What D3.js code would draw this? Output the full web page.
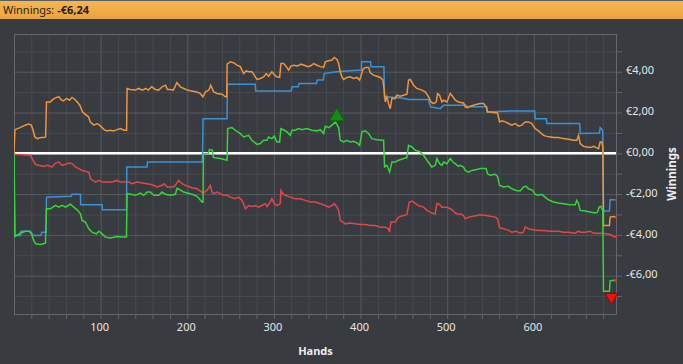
<!DOCTYPE html>
<html><head><meta charset="utf-8">
<script src="https://cdn.jsdelivr.net/npm/d3@7"></script>
<style>
html,body{margin:0;padding:0;background:#383b3f;overflow:hidden}
svg{display:block}
</style></head><body>
<svg id="c" width="683" height="364"></svg>
<script>
// ---------- data ----------
const titleLabel = "Winnings: ";
const titleValue = "-€6,24";
const xAxisTitle = "Hands";
const yAxisTitle = "Winnings";
const xTickValues = [100, 200, 300, 400, 500, 600];
const xTickLabels = ["100", "200", "300", "400", "500", "600"];
const yTickValues = [-6, -4, -2, 0, 2, 4];
const yTickLabels = ["-€6,00", "-€4,00", "-€2,00", "€0,00", "€2,00", "€4,00"];
const handsDomain = [0, 696];
const winDomain = [-7.88, 5.85];

// all-in EV (orange)
const orangeSeries = [[0,0],[1,1.16],[7,1.26],[13,1.38],[17,1.43],[20,1.38],[22,1.13],[24,0.80],[27,0.72],[31,0.77],[34,0.77],[36.5,0.80],[37.5,2.52],[42,2.52],[45,2.64],[49,2.74],[52,2.77],[54,2.64],[57,2.57],[61,2.69],[64,2.60],[67,2.74],[70,2.65],[73,2.52],[76,2.36],[79,2.03],[82,1.92],[86,1.79],[88,1.54],[92,1.38],[96,1.46],[100,1.33],[104,1.16],[107,1.10],[111,1.13],[115,1.10],[119,1.16],[123,1.21],[127,1.13],[130,1.13],[130.5,3.18],[134,3.13],[140,3.10],[144,3.18],[148,3.10],[152,3.18],[155,3.10],[159,3.26],[163,3.13],[167,3.10],[171,3.26],[175,3.34],[177,3.13],[180,3.13],[184,3.10],[188,3.46],[192,3.26],[196,3.18],[200,3.10],[205,3.06],[211,3.01],[215,2.93],[218,2.77],[221,3.01],[225,3.10],[227,3.34],[230.5,3.01],[234.4,2.93],[240,2.90],[244,2.77],[245.5,2.77],[246,4.37],[249.7,4.49],[253.5,4.44],[257.4,4.32],[261.2,4.25],[265,3.91],[268,4.04],[271,4.0],[274.6,4.0],[277.3,3.83],[280.4,3.62],[284.3,3.67],[288.1,3.75],[291.2,3.91],[293.9,3.78],[297.7,4.0],[300.8,3.83],[303.5,3.75],[306.6,3.72],[308.1,4.4],[311.2,4.4],[314.3,4.25],[317,4.08],[319.7,4.28],[322.8,4.32],[327.4,4.28],[331.3,4.37],[335.1,4.32],[339,4.25],[342,4.28],[345.9,4.4],[349.7,4.32],[353.6,4.25],[357.4,4.21],[359.3,4.49],[363.2,4.54],[367,4.57],[369.7,4.70],[372.8,4.60],[374.7,4.40],[376.6,4.0],[378.5,3.75],[380.5,3.62],[384.3,3.72],[388.1,3.75],[392,3.67],[395.8,3.72],[398.9,3.59],[400.4,3.78],[402.7,4.11],[405.4,4.21],[409.3,4.21],[411.2,3.95],[415,3.83],[418.9,3.78],[422.7,3.72],[425.8,3.59],[427.3,3.10],[428.5,2.52],[430.4,2.77],[432.3,2.44],[434.3,2.19],[436.2,2.69],[440,2.69],[442,2.85],[445.8,2.80],[449.7,2.85],[453.5,2.90],[455.4,3.59],[457.4,3.62],[461.2,3.34],[465,3.18],[470.8,3.10],[474.6,3.01],[478.5,2.77],[481.2,2.52],[484.3,2.44],[487.4,2.52],[488.9,2.93],[491.2,2.85],[493.9,2.52],[495.8,2.60],[499.7,2.52],[503.5,2.93],[506.6,2.77],[509.3,2.60],[513.1,2.52],[518.9,2.47],[520.8,2.28],[523.5,2.24],[526.6,2.31],[530.5,2.36],[534.3,2.41],[538.1,2.44],[542,2.44],[545.1,2.28],[546.6,2.03],[549.6,2.03],[553.5,2.0],[558.1,1.98],[560.4,1.54],[563.1,1.59],[567,1.54],[570.8,1.46],[574.6,1.38],[578.5,1.46],[582.3,1.33],[586.2,1.38],[590,1.54],[593.9,1.54],[597.7,1.46],[601.6,1.21],[605.4,1.10],[611.2,0.88],[615,0.83],[618.9,0.80],[622.7,0.77],[628.5,0.77],[634.3,0.72],[640.1,0.69],[645.8,0.64],[649.7,0.64],[651.6,0.88],[653.5,0.48],[657.4,0.34],[661.2,0.31],[665.1,0.28],[668.9,0.34],[672,0.28],[674.7,0.23],[676.6,0.56],[678.5,0.56],[679.7,0.3],[680.4,-3.54],[687.3,-3.54],[688.1,-3.13],[691.9,-3.10],[696,-3.16]];

// showdown winnings (blue)
const blueSeries = [[0,0],[1,-4.03],[7.5,-4.03],[8,-3.82],[19,-3.82],[20,-3.9],[23,-4.03],[30.6,-4.03],[32.5,-3.87],[37,-3.87],[37.5,-2.15],[66,-2.11],[67,-2.01],[76.7,-2.01],[77,-2.52],[101.7,-2.52],[102,-2.77],[129.8,-2.77],[130.2,-0.67],[153.6,-0.67],[154,-0.43],[217.5,-0.43],[218.2,1.70],[245.9,1.70],[246.2,3.39],[278.5,3.39],[279,3.05],[320,3.05],[321,3.26],[328,3.26],[329,3.42],[349,3.42],[350,3.59],[357,3.59],[358,3.91],[370,3.99],[388,4.05],[401,4.08],[401.3,4.49],[411.5,4.49],[412,4.24],[427,4.24],[427.5,2.77],[445,2.72],[456,2.64],[478.5,2.64],[479,2.52],[481,2.28],[491.9,2.19],[495.8,2.36],[522,2.36],[522.7,2.28],[545.8,2.28],[546,2.03],[576.6,2.08],[601,2.08],[601.6,1.70],[614.5,1.70],[615,1.46],[653,1.46],[653.5,0.97],[675.8,1.0],[676.6,1.26],[679.5,1.13],[680.4,-2.83],[687.3,-2.83],[688.1,-2.28],[696,-2.28]];

// non-showdown winnings (red)
const redSeries = [[0,0],[1.3,-0.05],[19,-0.10],[20.9,-0.26],[24.8,-0.54],[28.6,-0.59],[34.4,-0.64],[38.2,-0.59],[44,-0.67],[47.9,-0.48],[51.7,-0.43],[55.5,-0.59],[59.4,-0.54],[63.2,-0.48],[67.1,-0.51],[70.9,-0.67],[74.8,-0.75],[78.6,-0.84],[86.3,-0.92],[88.2,-1.24],[94,-1.41],[97.9,-1.33],[101.7,-1.41],[107.5,-1.41],[113.2,-1.41],[119,-1.33],[122.8,-1.41],[128.6,-1.41],[132.5,-1.41],[136.3,-1.49],[142.1,-1.41],[147.8,-1.46],[153.6,-1.49],[159.4,-1.54],[165.2,-1.65],[170.9,-1.57],[173.6,-1.49],[176.7,-1.65],[184.4,-1.65],[187.4,-1.49],[190.1,-1.33],[194,-1.49],[197.8,-1.57],[205.5,-1.69],[211.3,-1.74],[215.1,-1.85],[218.2,-1.95],[222.8,-1.82],[226.6,-1.57],[228.5,-1.90],[230.5,-1.98],[234.3,-1.90],[238.2,-1.98],[242,-2.06],[245.9,-2.06],[249.7,-2.15],[255.5,-2.23],[259.3,-2.15],[263.2,-2.31],[265,-2.47],[267,-2.72],[270.8,-2.56],[274.6,-2.61],[278.5,-2.56],[282.3,-2.64],[286.2,-2.56],[290,-2.47],[292,-2.61],[295.8,-2.39],[297.7,-2.23],[300.4,-2.47],[303.5,-2.56],[307.3,-2.47],[308.1,-1.82],[310.4,-1.98],[313.1,-2.06],[318.9,-2.15],[324.7,-2.23],[330.4,-2.23],[336.2,-2.31],[342,-2.39],[347.8,-2.39],[353.6,-2.47],[359.3,-2.56],[363.2,-2.64],[367,-2.56],[369.7,-2.47],[372.8,-2.64],[374.7,-2.8],[376.6,-3.29],[379.7,-3.37],[382.4,-3.46],[388.1,-3.42],[393.9,-3.46],[399.7,-3.49],[405.4,-3.49],[411.2,-3.54],[417,-3.54],[422.7,-3.62],[428.5,-3.62],[432.3,-3.70],[433.5,-3.87],[435,-3.37],[440,-3.37],[443.9,-3.13],[449.7,-3.05],[453.5,-3.0],[456.2,-2.40],[459.3,-2.34],[461.2,-2.39],[466.9,-2.56],[472.7,-2.64],[476.6,-2.80],[482.3,-2.93],[486.2,-2.97],[488.1,-2.46],[491.2,-2.51],[493.9,-2.64],[499.6,-2.64],[503.5,-2.72],[506.6,-2.80],[509.2,-2.93],[513.1,-3.0],[515,-2.97],[518.8,-3.05],[520.8,-3.21],[524.6,-3.13],[528.4,-3.10],[534.2,-3.05],[538.1,-3.01],[545,-3.05],[555.4,-3.13],[558.1,-3.21],[560.4,-3.65],[565,-3.70],[570.8,-3.78],[574.6,-3.87],[579.6,-3.82],[584.2,-3.92],[588,-3.87],[589.9,-3.62],[593.8,-3.70],[598.8,-3.75],[605.4,-3.78],[611.2,-3.78],[619,-3.82],[628.4,-3.82],[634.2,-3.87],[640,-3.87],[647.7,-3.92],[651.6,-3.82],[653.5,-3.87],[659.2,-3.87],[665,-3.82],[669,-3.92],[675.4,-3.92],[679.6,-3.92],[683.5,-3.95],[688.1,-3.98],[691.9,-4.08],[696,-4.11]];

// net won (green)
const greenSeries = [[0,0],[1,-4.08],[7.5,-3.92],[13.3,-3.82],[17.1,-3.82],[19.8,-3.92],[22.9,-4.28],[24.8,-4.44],[30.6,-4.47],[36.3,-4.41],[37.5,-2.72],[42.1,-2.72],[47.9,-2.55],[51.7,-2.64],[55.5,-2.55],[59.4,-2.64],[65.2,-2.50],[69,-2.64],[72.9,-2.77],[76.7,-2.97],[78.6,-3.29],[82.5,-3.37],[86.3,-3.70],[90.2,-3.87],[95.2,-3.95],[97.9,-3.82],[101.7,-3.95],[105.5,-4.11],[111.3,-4.15],[119,-4.08],[124.8,-4.11],[129.8,-4.11],[130.5,-1.98],[134.4,-2.01],[140.1,-2.06],[145.9,-1.95],[149.8,-2.06],[153.6,-1.90],[157.5,-1.90],[161.3,-2.06],[167.1,-2.06],[170.9,-1.90],[174.7,-2.01],[180.5,-2.06],[186.3,-2.01],[188.2,-1.72],[192,-1.80],[195.9,-1.90],[205.5,-2.01],[211.3,-2.11],[217,-2.39],[218.2,-2.39],[218.6,-0.02],[224.5,0.0],[225.5,0.18],[229,0.15],[230,-0.2],[238,-0.26],[245.9,-0.34],[246.6,1.21],[251.6,1.26],[255.5,1.13],[261.2,0.97],[265,0.80],[270.8,0.88],[274.6,0.64],[280.4,0.44],[284.3,0.48],[288.1,0.64],[292,0.64],[293.9,0.80],[297.7,0.72],[300.4,0.84],[303.5,0.56],[306.6,0.56],[308.1,1.21],[312,1.13],[315.1,1.05],[318.9,0.88],[320.9,1.13],[324.7,1.13],[328.5,1.21],[332.4,1.16],[338.1,1.21],[343.9,1.13],[349.7,1.10],[353.6,1.16],[357.4,0.97],[359.3,1.33],[363.2,1.26],[367,1.38],[370.9,1.54],[374.7,1.26],[376.6,0.64],[380.5,0.56],[384.3,0.64],[388.1,0.56],[392,0.59],[395.8,0.51],[398.9,0.39],[401.6,1.05],[405.4,1.10],[409.3,0.97],[413.1,0.72],[418.9,0.67],[424.6,0.64],[426.6,0.64],[427.7,-0.67],[430.4,-0.59],[433.5,-0.92],[436.2,-0.43],[440,-0.43],[443.9,-0.34],[449.7,-0.26],[453.5,-0.21],[455.4,0.39],[459.3,0.31],[463.1,0.15],[468.9,0.07],[472.7,-0.1],[476.6,-0.34],[482.3,-0.67],[486.2,-0.59],[488.1,-0.26],[491.2,-0.51],[493.9,-0.59],[495.8,-0.43],[499.6,-0.51],[503.5,-0.26],[506.6,-0.43],[509.2,-0.51],[513.1,-0.64],[515,-0.59],[518.8,-0.67],[520.8,-0.84],[524.6,-0.92],[528.4,-0.84],[534.2,-0.80],[538.1,-0.75],[545,-0.75],[546.5,-1.0],[549.6,-1.08],[555.4,-1.03],[558.1,-1.13],[560.4,-1.57],[565,-1.65],[570.8,-1.62],[574.6,-1.74],[579.6,-1.82],[584.2,-1.85],[588.1,-1.65],[591.2,-1.62],[593.8,-1.74],[598.8,-1.82],[601.5,-2.01],[605.4,-2.06],[609.2,-2.01],[613,-2.15],[616.9,-2.28],[622.7,-2.39],[628.4,-2.44],[634.2,-2.47],[640,-2.51],[647.7,-2.52],[649.6,-2.31],[651.6,-2.47],[653.5,-2.80],[659.2,-2.83],[665,-2.88],[670.8,-2.93],[673.5,-2.88],[675.4,-2.64],[677.3,-2.60],[679.6,-2.80],[680.4,-6.77],[687.3,-6.77],[688.1,-6.25],[691.9,-6.22],[696,-6.24]];

const seriesOrder = ["red", "blue", "orange", "green"];
const seriesData = {red: redSeries, blue: blueSeries, orange: orangeSeries, green: greenSeries};
const seriesColors = {red: "#e0474a", blue: "#3b93d6", orange: "#f0953c", green: "#34d63a"};

// ---------- layout ----------
const svg = d3.select("#c");
const W = 683, H = 364;
const plot = {left: 14, right: 617, top: 34, bottom: 314};
const font = "'Noto Sans', 'Open Sans', sans-serif";

svg.append("rect").attr("width", W).attr("height", H).attr("fill", "#383b3f");

// title bar
const defs = svg.append("defs");
const grad = defs.append("linearGradient").attr("id", "tb").attr("x1", 0).attr("x2", 0).attr("y1", 0).attr("y2", 1);
grad.append("stop").attr("offset", "0%").attr("stop-color", "#f6b650");
grad.append("stop").attr("offset", "100%").attr("stop-color", "#eaa43f");
svg.append("rect").attr("x", 0).attr("y", 0).attr("width", W).attr("height", 1).attr("fill", "#5a5d61");
svg.append("rect").attr("x", 0).attr("y", 1).attr("width", W).attr("height", 18).attr("fill", "url(#tb)");
const tt = svg.append("text").attr("x", 3).attr("y", 14).attr("font-family", font).attr("font-size", 11).attr("fill", "#1e1e1e");
tt.append("tspan").text(titleLabel);
tt.append("tspan").attr("font-weight", "bold").text(titleValue);

// scales
const x = d3.scaleLinear().domain(handsDomain).range([plot.left, plot.right]);
const y = d3.scaleLinear().domain(winDomain).range([plot.bottom, plot.top]);
const pw = plot.right - plot.left, ph = plot.bottom - plot.top;

// minor grid
const xMinor = d3.range(20, handsDomain[1], 20).filter(d => d % 100 !== 0);
const yMinor = d3.range(-7, 6, 1).filter(d => d % 2 !== 0);
const gMinX = svg.append("g").attr("transform", `translate(0,${plot.bottom})`)
  .call(d3.axisBottom(x).tickValues(xMinor).tickSize(-ph).tickFormat(""));
gMinX.select(".domain").remove();
gMinX.selectAll("line").attr("stroke", "#474a4e").attr("stroke-width", 1);
const gMinY = svg.append("g").attr("transform", `translate(${plot.left},0)`)
  .call(d3.axisLeft(y).tickValues(yMinor).tickSize(-pw).tickFormat(""));
gMinY.select(".domain").remove();
gMinY.selectAll("line").attr("stroke", "#474a4e").attr("stroke-width", 1);

// major grid
const yMajorGrid = d3.range(-6, 6, 2);
const gMajX = svg.append("g").attr("transform", `translate(0,${plot.bottom})`)
  .call(d3.axisBottom(x).tickValues(xTickValues).tickSize(-ph).tickFormat(""));
gMajX.select(".domain").remove();
gMajX.selectAll("line").attr("stroke", "#575a5e").attr("stroke-width", 1);
const gMajY = svg.append("g").attr("transform", `translate(${plot.left},0)`)
  .call(d3.axisLeft(y).tickValues(yMajorGrid).tickSize(-pw).tickFormat(""));
gMajY.select(".domain").remove();
gMajY.selectAll("line").attr("stroke", "#575a5e").attr("stroke-width", 1);

// border
svg.append("rect").attr("x", plot.left + 0.5).attr("y", plot.top + 0.5)
  .attr("width", pw - 1).attr("height", ph).attr("fill", "none").attr("stroke", "#64676b");

// bottom axis ticks & labels
const gx = svg.append("g").attr("transform", `translate(0,${plot.bottom})`)
  .call(d3.axisBottom(x).tickValues(d3.range(20, handsDomain[1], 20)).tickSize(5).tickFormat(""));
gx.select(".domain").remove();
gx.selectAll("line").attr("stroke", "#64676b");
const gxl = svg.append("g").attr("transform", `translate(0,${plot.bottom})`)
  .call(d3.axisBottom(x).tickValues(xTickValues).tickSize(0).tickPadding(9)
    .tickFormat((d, i) => xTickLabels[i]));
gxl.select(".domain").remove();
gxl.selectAll("text").attr("fill", "#e6e6e6").attr("font-family", font).attr("font-size", 11)
  .attr("dx", -1.5);

// right axis ticks & labels
const gy = svg.append("g").attr("transform", `translate(${plot.right},0)`)
  .call(d3.axisRight(y).tickValues(d3.range(-7, 6, 1)).tickSize(5).tickFormat(""));
gy.select(".domain").remove();
gy.selectAll("line").attr("stroke", "#64676b");
const gyl = svg.append("g").attr("transform", `translate(${plot.right},0)`)
  .call(d3.axisRight(y).tickValues(yTickValues).tickSize(0).tickPadding(9)
    .tickFormat((d, i) => yTickLabels[i]));
gyl.select(".domain").remove();
gyl.selectAll("text").attr("fill", "#e6e6e6").attr("font-family", font).attr("font-size", 11)
  .attr("dy", "0.2em");

// axis titles
svg.append("text").attr("x", (plot.left + plot.right) / 2).attr("y", 355)
  .attr("text-anchor", "middle").attr("font-family", font).attr("font-size", 11)
  .attr("font-weight", "bold").attr("fill", "#eeeeee").text(xAxisTitle);
svg.append("text").attr("transform", `translate(676,${(plot.top + plot.bottom) / 2}) rotate(-90)`)
  .attr("text-anchor", "middle").attr("font-family", font).attr("font-size", 11.5)
  .attr("font-weight", "bold").attr("fill", "#eeeeee").text(yAxisTitle);

// clip
defs.append("clipPath").attr("id", "pc").append("rect")
  .attr("x", plot.left).attr("y", plot.top).attr("width", pw).attr("height", ph);

// zero line
svg.append("line").attr("x1", plot.left + 1).attr("x2", plot.right - 1)
  .attr("y1", y(0)).attr("y2", y(0)).attr("stroke", "#ffffff").attr("stroke-width", 2.5);

const line = d3.line().x(d => x(d[0])).y(d => y(d[1]));
const lg = svg.append("g").attr("clip-path", "url(#pc)");
seriesOrder.forEach(k => {
  lg.append("path").datum(seriesData[k]).attr("d", line).attr("fill", "none")
    .attr("stroke", seriesColors[k]).attr("stroke-width", 1.5).attr("stroke-linejoin", "miter");
});
// end tips
seriesOrder.forEach(k => {
  const d = seriesData[k], last = d[d.length - 1];
  lg.append("line").attr("x1", x(last[0]) - 2.5).attr("x2", x(last[0]))
    .attr("y1", y(last[1])).attr("y2", y(last[1])).attr("stroke", "#ff2020").attr("stroke-width", 1.5);
});

// max / min markers on net won
const gmax = greenSeries.reduce((a, b) => b[1] > a[1] ? b : a);
let gmin = greenSeries[0];
greenSeries.forEach(p => { if (p[1] <= gmin[1]) gmin = p; });
const mx = x(gmax[0]) + 1.5, my = y(gmax[1]);
svg.append("path").attr("d", `M${mx},${my - 14}L${mx + 7.5},${my - 1}L${mx - 7.5},${my - 1}Z`)
  .attr("fill", "#138a13").attr("stroke", "#0b640b").attr("stroke-width", 1);
const nx = x(gmin[0]) + 2, ny = y(gmin[1]);
svg.append("path").attr("d", `M${nx - 6.5},${ny + 2}L${nx + 6.5},${ny + 2}L${nx},${ny + 13}Z`)
  .attr("fill", "#f01010").attr("stroke", "#a00000").attr("stroke-width", 1);
</script>
</body></html>
